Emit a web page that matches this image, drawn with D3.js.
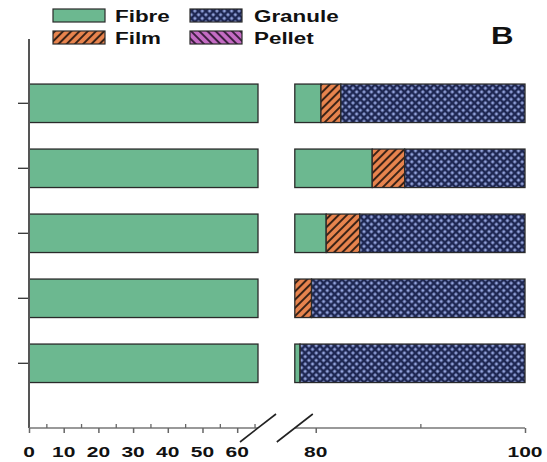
<!DOCTYPE html>
<html>
<head>
<meta charset="utf-8">
<script src="https://cdn.jsdelivr.net/npm/d3@7"></script>
<style>
  html, body { margin: 0; padding: 0; background: #fff; }
  svg { display: block; }
  text { font-family: "Liberation Sans", Arial, sans-serif; font-weight: bold; fill: #111; }
</style>
</head>
<body>
<svg id="chart" width="547" height="462"></svg>
<script>
// Samples, drawn top to bottom
const samples = ["Site 1", "Site 2", "Site 3", "Site 4", "Site 5"];
// Percentage of each particle shape per sample
const fibre   = [80.5, 85.4, 81.0, 78.0, 78.5];
const film    = [1.9, 3.1, 3.2, 1.6, 0.0];
const granule = [17.6, 11.5, 15.8, 20.4, 21.5];
const pellet  = [0.0, 0.0, 0.0, 0.0, 0.0];
const shapes = ["Fibre", "Film", "Granule", "Pellet"];

// Broken x axis: two domains
const leftTicks = [0, 10, 20, 30, 40, 50, 60];
const leftMinor = [5, 15, 25, 35, 45, 55, 65];
const rightTicks = [80, 100];
const rightMinor = [90];

const svg = d3.select("#chart");
const axisY = 428;

const xL = d3.scaleLinear().domain([0, 66]).range([29, 258]);
const xR = d3.scaleLinear().domain([78, 100]).range([294.8, 525]);
const y = d3.scaleBand().domain(samples).range([70.8, 395.8])
  .paddingInner(0.408).paddingOuter(0.204);

// Fill patterns
const defs = svg.append("defs");
function hatch(id, bg, line, size, width, dir) {
  const p = defs.append("pattern").attr("id", id)
    .attr("patternUnits", "userSpaceOnUse")
    .attr("width", size).attr("height", size)
    .attr("patternTransform", `rotate(${dir})`);
  p.append("rect").attr("width", size).attr("height", size).attr("fill", bg);
  p.append("line").attr("x1", 0).attr("y1", size / 2).attr("x2", size).attr("y2", size / 2)
    .attr("stroke", line).attr("stroke-width", width);
}
hatch("pFilm", "#e8844e", "#3a2216", 5.8, 2, -45);
hatch("pPellet", "#c56cc4", "#3d1f40", 5.8, 2, 45);
// granule: cross-hatch of dark lines over light blue
(function () {
  const s = 5.2;
  const p = defs.append("pattern").attr("id", "pGranule")
    .attr("patternUnits", "userSpaceOnUse")
    .attr("width", s).attr("height", s)
    .attr("patternTransform", "rotate(45)");
  p.append("rect").attr("width", s).attr("height", s).attr("fill", "#93a3dc");
  p.append("line").attr("x1", 0).attr("y1", s / 2).attr("x2", s).attr("y2", s / 2)
    .attr("stroke", "#1e2752").attr("stroke-width", 2.5);
  p.append("line").attr("x1", s / 2).attr("y1", 0).attr("x2", s / 2).attr("y2", s)
    .attr("stroke", "#1e2752").attr("stroke-width", 2.5);
})();

const fills = {
  Fibre: "#6cb890",
  Film: "url(#pFilm)",
  Granule: "url(#pGranule)",
  Pellet: "url(#pPellet)"
};

// Stack the shares
const rows = samples.map((s, i) => ({
  sample: s, Fibre: fibre[i], Film: film[i], Granule: granule[i], Pellet: pellet[i]
}));
const stacked = d3.stack().keys(shapes)(rows);

const segs = [];
stacked.forEach(layer => {
  layer.forEach(d => {
    const x0 = d[0], x1 = d[1];
    if (x1 - x0 <= 0) return;
    const [l0, l1] = xL.domain();
    const [r0, r1] = xR.domain();
    if (x0 < l1) segs.push({ key: layer.key, sample: d.data.sample, a: xL(Math.max(x0, l0)), b: xL(Math.min(x1, l1)) });
    if (x1 > r0) segs.push({ key: layer.key, sample: d.data.sample, a: xR(Math.max(x0, r0)), b: xR(Math.min(x1, r1)) });
  });
});

svg.append("g").selectAll("rect").data(segs).join("rect")
  .attr("x", d => d.a)
  .attr("y", d => y(d.sample))
  .attr("width", d => d.b - d.a)
  .attr("height", y.bandwidth())
  .attr("fill", d => fills[d.key])
  .attr("stroke", "#2a2a2a")
  .attr("stroke-width", 1.3);

// y axis
const yAxis = d3.axisLeft(y).tickSize(11).tickFormat("");
const gy = svg.append("g").attr("transform", `translate(${xL(0)},0)`).call(yAxis);
gy.select(".domain").remove();
gy.selectAll(".tick line").attr("stroke", "#333").attr("stroke-width", 1.3);
svg.append("line").attr("x1", xL(0)).attr("x2", xL(0)).attr("y1", 39).attr("y2", axisY)
  .attr("stroke", "#555").attr("stroke-width", 2);

// x axis, left and right pieces
function xPiece(scale, major, minor) {
  const g = svg.append("g").attr("transform", `translate(0,${axisY})`);
  const [a, b] = scale.range();
  g.append("line").attr("x1", a).attr("x2", b).attr("stroke", "#777").attr("stroke-width", 1.5);
  const maj = d3.axisBottom(scale).tickValues(major).tickSize(5).tickFormat("");
  const gm = g.append("g").call(maj);
  gm.select(".domain").remove();
  gm.selectAll(".tick line").attr("stroke", "#666").attr("stroke-width", 1.5);
  const mn = d3.axisTop(scale).tickValues(minor).tickSize(4).tickFormat("");
  const gn = g.append("g").call(mn);
  gn.select(".domain").remove();
  gn.selectAll(".tick line").attr("stroke", "#666").attr("stroke-width", 1.3);
  g.selectAll("text.lab").data(major).join("text").attr("class", "lab")
    .attr("text-anchor", "middle")
    .attr("font-size", 15)
    .attr("transform", d => `translate(${scale(d)},29) scale(1.4,1)`)
    .text(d => d);
}
xPiece(xL, leftTicks, leftMinor);
xPiece(xR, rightTicks, rightMinor);

// break marks
[xL.range()[1], xR.range()[0]].forEach(cx => {
  svg.append("line")
    .attr("x1", cx - 18).attr("y1", axisY + 14)
    .attr("x2", cx + 18).attr("y2", axisY - 14)
    .attr("stroke", "#222").attr("stroke-width", 1.6);
});

// legend
const legend = [
  { key: "Fibre", x: 53, y: 9, tx: 115, ty: 21.5 },
  { key: "Film", x: 53, y: 31, tx: 115, ty: 43.5 },
  { key: "Granule", x: 190, y: 9, tx: 254, ty: 21.5 },
  { key: "Pellet", x: 190, y: 31, tx: 254, ty: 43.5 }
];
const lg = svg.append("g");
lg.selectAll("rect").data(legend).join("rect")
  .attr("x", d => d.x).attr("y", d => d.y)
  .attr("width", 52)
  .attr("height", 13)
  .attr("fill", d => fills[d.key])
  .attr("stroke", "#2a2a2a").attr("stroke-width", 1.2);
lg.selectAll("text").data(legend).join("text")
  .attr("font-size", 16)
  .attr("transform", d => `translate(${d.tx},${d.ty}) scale(1.4,1)`)
  .text(d => d.key);

svg.append("text").attr("font-size", 24)
  .attr("transform", "translate(491,43.5) scale(1.3,1)")
  .text("B");
</script>
</body>
</html>
